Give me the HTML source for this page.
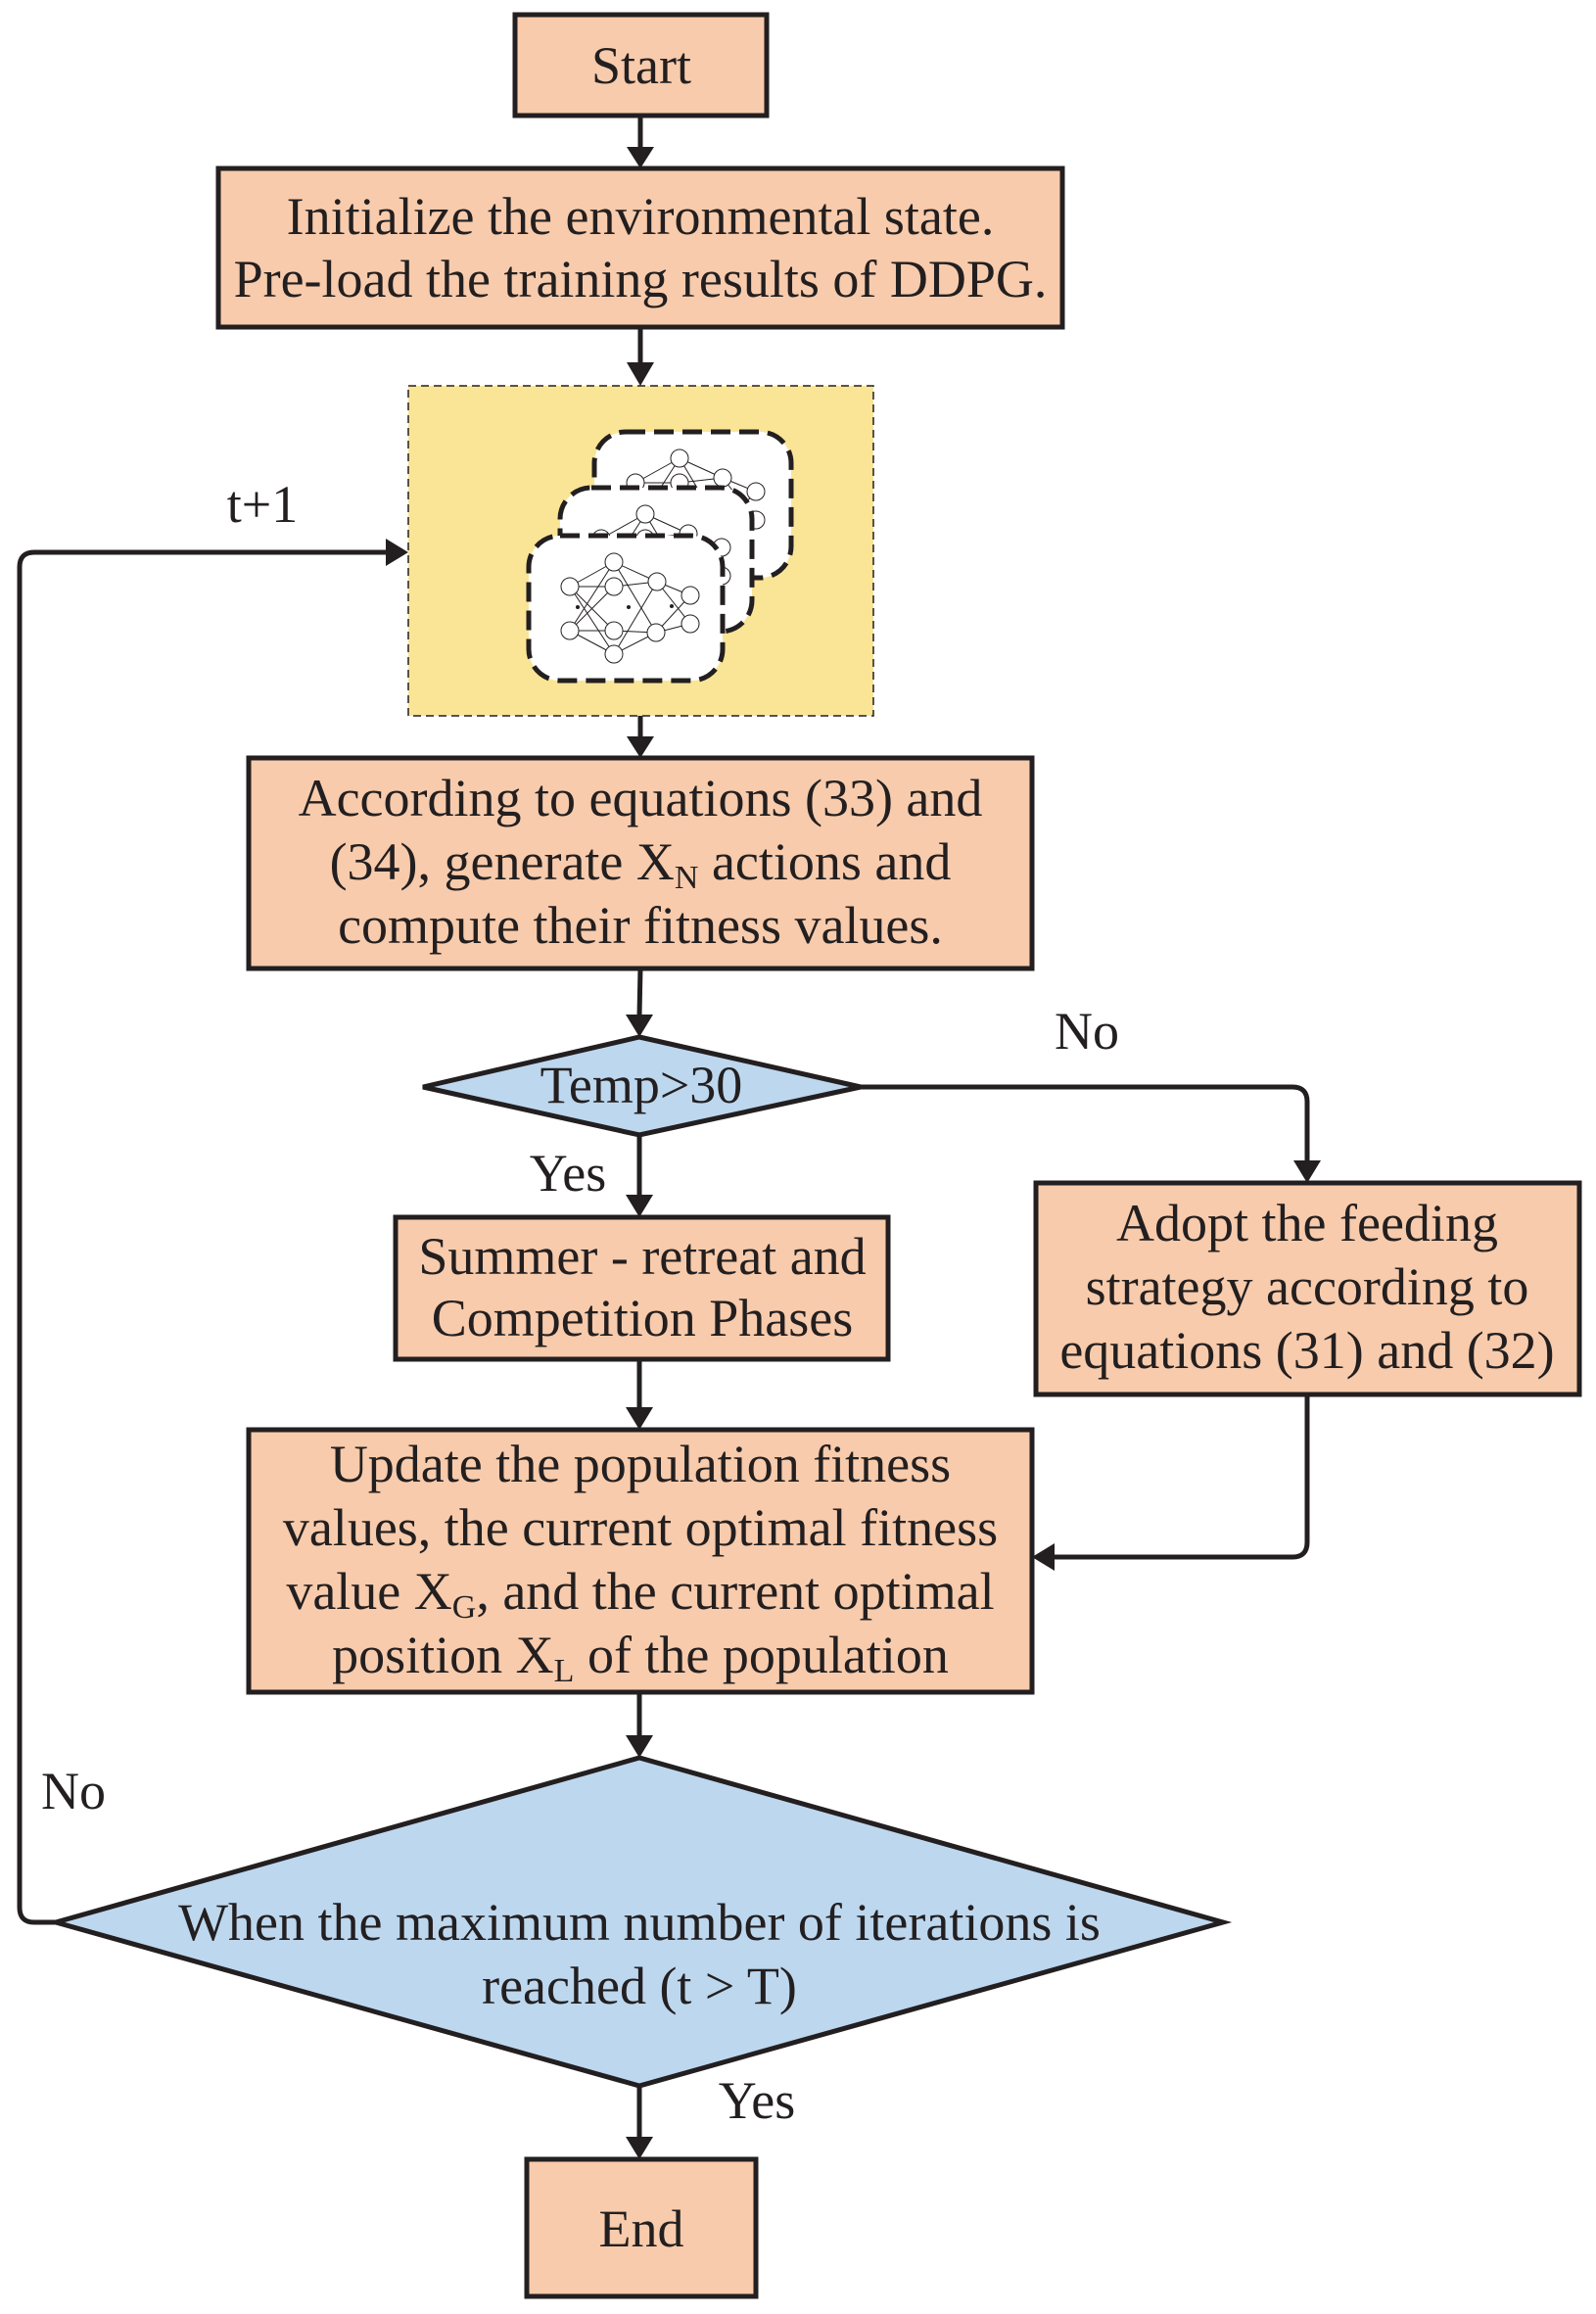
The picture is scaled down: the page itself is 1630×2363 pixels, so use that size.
<!DOCTYPE html>
<html><head><meta charset="utf-8"><style>
html,body{margin:0;padding:0;background:#fff;}
svg{display:block;}
text{font-family:"Liberation Serif","Times New Roman",serif;fill:#231f20;}
</style></head><body>
<svg width="1630" height="2363" viewBox="0 0 1630 2363" xmlns="http://www.w3.org/2000/svg">
<g stroke="#231f20" stroke-width="5" fill="#F7CBAC">
<rect x="526" y="15" width="257" height="103"/>
<rect x="223" y="172" width="862" height="162"/>
<rect x="254" y="774" width="800" height="215"/>
<rect x="404" y="1243" width="503" height="145"/>
<rect x="1058" y="1208" width="555" height="216"/>
<rect x="254" y="1460" width="800" height="268"/>
<rect x="538" y="2205" width="234" height="140"/>
</g>
<rect x="417" y="394" width="475" height="337" fill="#FAE597" stroke="#231f20" stroke-width="1.5" stroke-dasharray="8,5"/>
<g stroke="#231f20" stroke-width="5" fill="#BDD7EE">
<polygon points="432,1110 653,1059 879,1110 653,1159"/>
<polygon points="57,1963 653,1795 1249,1963 653,2130"/>
</g>
<g stroke="#231f20" stroke-width="5" fill="none">
<line x1="654" y1="118" x2="654" y2="150"/>
<line x1="654" y1="334" x2="654" y2="372"/>
<line x1="654" y1="731" x2="654" y2="752"/>
<line x1="654" y1="989" x2="653" y2="1037"/>
<line x1="653" y1="1159" x2="653" y2="1221"/>
<line x1="653" y1="1388" x2="653" y2="1438"/>
<line x1="653" y1="1728" x2="653" y2="1773"/>
<line x1="653" y1="2130" x2="653" y2="2183"/>
<path d="M879,1110 H1320 Q1335,1110 1335,1125 V1186"/>
<path d="M1335,1424 V1575 Q1335,1590 1320,1590 H1076"/>
<path d="M57,1963 H35 Q20,1963 20,1948 V579 Q20,564 35,564 H395"/>
</g>
<g fill="#231f20">
<polygon points="640,150 668,150 654,172"/>
<polygon points="640,370 668,370 654,394"/>
<polygon points="640,752 668,752 654,774"/>
<polygon points="639,1036 667,1036 653,1059"/>
<polygon points="639,1220 667,1220 653,1243"/>
<polygon points="639,1437 667,1437 653,1460"/>
<polygon points="639,1772 667,1772 653,1795"/>
<polygon points="639,2182 667,2182 653,2205"/>
<polygon points="1321,1185 1349,1185 1335,1208"/>
<polygon points="1077,1576 1077,1604 1054,1590"/>
<polygon points="394,550 394,578 417,564"/>
</g>
<g>
<g>
<rect x="607" y="441" width="201" height="149" rx="32" fill="#fff" stroke="#231f20" stroke-width="5" stroke-dasharray="20,9"/>
<g transform="translate(67,-106)" stroke="#231f20" stroke-width="1" fill="none">
<path d="M582,599 L627,574 M582,599 L627,599 M582,599 L627,644 M582,599 L627,668 M582,644 L627,574 M582,644 L627,599 M582,644 L627,644 M582,644 L627,668 M627,574 L671,594 M627,574 L670,646 M627,599 L671,594 M627,644 L670,646 M627,668 L671,594 M627,668 L670,646 M671,594 L705,608 M671,594 L705,637 M670,646 L705,608 M670,646 L705,637"/>
<g fill="#fff"><circle cx="582" cy="599" r="9"/><circle cx="582" cy="644" r="9"/><circle cx="627" cy="574" r="9"/><circle cx="627" cy="599" r="9"/><circle cx="627" cy="644" r="9"/><circle cx="627" cy="668" r="9"/><circle cx="671" cy="594" r="9"/><circle cx="670" cy="646" r="9"/><circle cx="705" cy="608" r="9"/><circle cx="705" cy="637" r="9"/></g>
</g>
</g>
<g>
<rect x="572" y="498" width="196" height="147" rx="32" fill="#fff" stroke="#231f20" stroke-width="5" stroke-dasharray="20,9"/>
<g transform="translate(32,-49)" stroke="#231f20" stroke-width="1" fill="none">
<path d="M582,599 L627,574 M582,599 L627,599 M582,599 L627,644 M582,599 L627,668 M582,644 L627,574 M582,644 L627,599 M582,644 L627,644 M582,644 L627,668 M627,574 L671,594 M627,574 L670,646 M627,599 L671,594 M627,644 L670,646 M627,668 L671,594 M627,668 L670,646 M671,594 L705,608 M671,594 L705,637 M670,646 L705,608 M670,646 L705,637"/>
<g fill="#fff"><circle cx="582" cy="599" r="9"/><circle cx="582" cy="644" r="9"/><circle cx="627" cy="574" r="9"/><circle cx="627" cy="599" r="9"/><circle cx="627" cy="644" r="9"/><circle cx="627" cy="668" r="9"/><circle cx="671" cy="594" r="9"/><circle cx="670" cy="646" r="9"/><circle cx="705" cy="608" r="9"/><circle cx="705" cy="637" r="9"/></g>
</g>
</g>
<g>
<rect x="540" y="547" width="198" height="148" rx="32" fill="#fff" stroke="#231f20" stroke-width="5" stroke-dasharray="20,9"/>
<g stroke="#231f20" stroke-width="1" fill="none">
<path d="M582,599 L627,574 M582,599 L627,599 M582,599 L627,644 M582,599 L627,668 M582,644 L627,574 M582,644 L627,599 M582,644 L627,644 M582,644 L627,668 M627,574 L671,594 M627,574 L670,646 M627,599 L671,594 M627,644 L670,646 M627,668 L671,594 M627,668 L670,646 M671,594 L705,608 M671,594 L705,637 M670,646 L705,608 M670,646 L705,637"/>
<g fill="#fff"><circle cx="582" cy="599" r="9"/><circle cx="582" cy="644" r="9"/><circle cx="627" cy="574" r="9"/><circle cx="627" cy="599" r="9"/><circle cx="627" cy="644" r="9"/><circle cx="627" cy="668" r="9"/><circle cx="671" cy="594" r="9"/><circle cx="670" cy="646" r="9"/><circle cx="705" cy="608" r="9"/><circle cx="705" cy="637" r="9"/></g>
</g>
<g fill="#231f20"><circle cx="590" cy="620" r="2"/><circle cx="642" cy="620" r="2"/><circle cx="686" cy="619" r="2"/></g>
</g>
</g>
<g font-size="54" text-anchor="middle">
<text x="654" y="239">Initialize the environmental state.</text>
<text x="654" y="303">Pre-load the training results of DDPG.</text>
<text x="655" y="85">Start</text>
<text x="654" y="833">According to equations (33) and</text>
<text x="654" y="898">(34), generate X<tspan font-size="34" dy="9">N</tspan><tspan dy="-9"> actions and</tspan></text>
<text x="654" y="963">compute their fitness values.</text>
<text x="655" y="1126">Temp&gt;30</text>
<text x="656" y="1301">Summer - retreat and</text>
<text x="656" y="1364">Competition Phases</text>
<text x="1335" y="1267">Adopt the feeding</text>
<text x="1335" y="1332">strategy according to</text>
<text x="1335" y="1397">equations (31) and (32)</text>
<text x="654" y="1513">Update the population fitness</text>
<text x="654" y="1578">values, the current optimal fitness</text>
<text x="654" y="1643">value X<tspan font-size="34" dy="9">G</tspan><tspan dy="-9">, and the current optimal</tspan></text>
<text x="654" y="1708">position X<tspan font-size="34" dy="9">L</tspan><tspan dy="-9"> of the population</tspan></text>
<text x="653" y="1981">When the maximum number of iterations is</text>
<text x="653" y="2046">reached (t &gt; T)</text>
<text x="655" y="2294">End</text>
<text x="268" y="533">t+1</text>
<text x="1110" y="1071">No</text>
<text x="580" y="1216">Yes</text>
<text x="75" y="1847">No</text>
<text x="773" y="2163">Yes</text>
</g>
</svg>
</body></html>
